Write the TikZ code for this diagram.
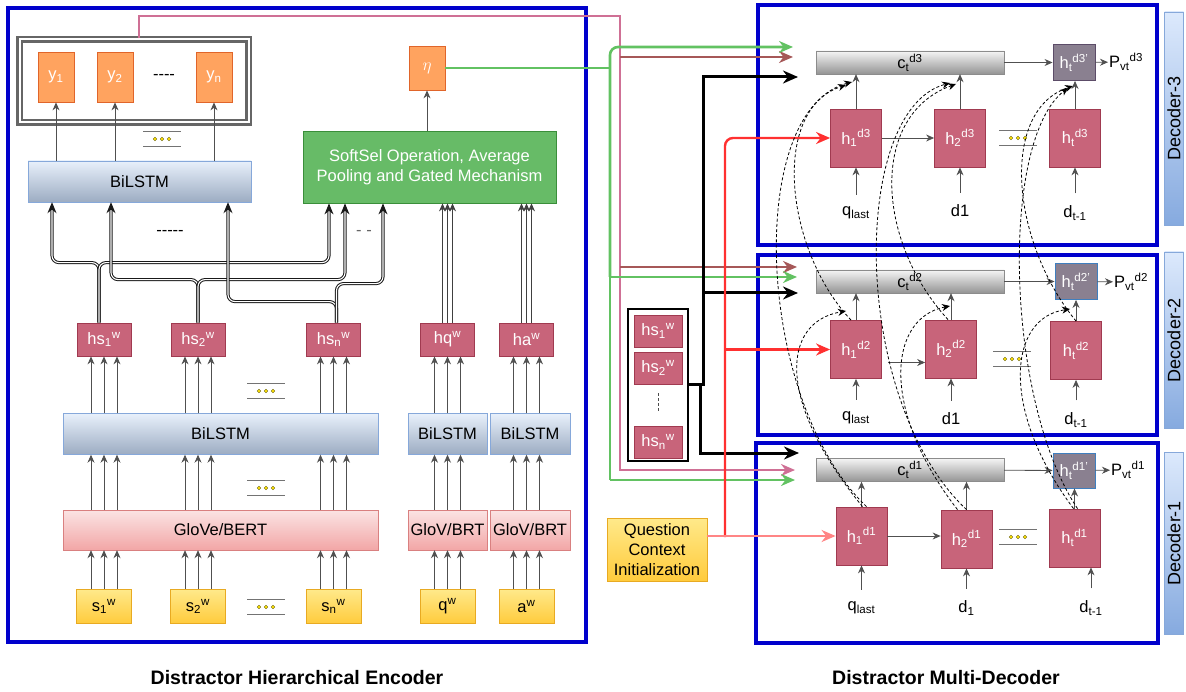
\documentclass[tikz,border=0pt]{standalone}
\usepackage{fontspec}
\setmainfont{Liberation Sans}
\usetikzlibrary{arrows.meta}

\definecolor{frameblue}{HTML}{0000CC}
\definecolor{hred}{HTML}{C8647A}
\definecolor{hredline}{HTML}{A03A50}
\definecolor{hgrey}{HTML}{8A8090}
\definecolor{hgreyline}{HTML}{5C4C68}
\definecolor{hblueline}{HTML}{3F7FBF}
\definecolor{horange}{HTML}{FFA35F}
\definecolor{horangeline}{HTML}{E0652A}
\definecolor{selgreen}{HTML}{67BB67}
\definecolor{selgreenline}{HTML}{3A8E3A}
\definecolor{lstmlight}{HTML}{E8F0FB}
\definecolor{lstmdark}{HTML}{9CACC2}
\definecolor{lstmline}{HTML}{86A8DA}
\definecolor{embtop}{HTML}{FBE4E4}
\definecolor{embbot}{HTML}{F2A6A6}
\definecolor{embline}{HTML}{D98080}
\definecolor{wordtop}{HTML}{FFE98A}
\definecolor{wordbot}{HTML}{FFCB3C}
\definecolor{wordline}{HTML}{E8AA22}
\definecolor{pinkline}{HTML}{CF7095}
\definecolor{brownline}{HTML}{A65858}
\definecolor{greenline}{HTML}{62C262}
\definecolor{redline}{HTML}{FF3030}
\definecolor{softred}{HTML}{FF8585}
\definecolor{arrowgrey}{HTML}{505050}
\definecolor{sidelight}{HTML}{DCE9FC}
\definecolor{sidedark}{HTML}{86AADF}

\tikzstyle{txt}=[inner sep=1pt]
\tikzstyle{hcell}=[draw=hredline, fill=hred, text=white, line width=0.8pt, minimum width=51pt, minimum height=58pt, inner sep=0pt]
\tikzstyle{hscell}=[hcell, minimum width=54pt, minimum height=33pt]
\tikzstyle{hpcell}=[draw=hgreyline, fill=hgrey, text=white, line width=0.9pt, minimum width=42pt, minimum height=36pt, inner sep=0pt]
\tikzstyle{cbar}=[draw=black!45, top color=black!4, bottom color=black!42, minimum width=188pt, minimum height=23pt, inner sep=0pt]
\tikzstyle{lstm}=[draw=lstmline, top color=lstmlight, bottom color=lstmdark, minimum height=41pt, inner sep=0pt]
\tikzstyle{emb}=[draw=embline, top color=embtop, bottom color=embbot, minimum height=40pt, inner sep=0pt]
\tikzstyle{word}=[draw=wordline, top color=wordtop, bottom color=wordbot, line width=0.8pt, minimum width=55pt, minimum height=34pt, inner sep=0pt]
\tikzstyle{ycell}=[draw=horangeline, fill=horange, text=white, line width=0.8pt, minimum width=36pt, minimum height=50pt, inner sep=0pt]
\tikzstyle{ybank}=[draw=black!60, double=white, double distance=2pt, line width=2.2pt, minimum width=229pt, minimum height=83pt]
\tikzstyle{softsel}=[draw=selgreenline, fill=selgreen, text=white, line width=0.8pt, align=center, minimum width=253pt, minimum height=72pt]
\tikzstyle{sidebar}=[draw=lstmline, top color=sidelight, bottom color=sidedark, rotate=90, minimum height=19pt, inner sep=0pt, font=\fontsize{18}{20}\selectfont]
\tikzstyle{blueframe}=[draw=frameblue, line width=3.8pt]
\tikzstyle{arrow}=[draw=arrowgrey, line width=0.8pt, -{Stealth[length=8pt, width=7pt]}]
\tikzstyle{inarrow}=[arrow, shorten <=11pt]
\tikzstyle{bundle}=[draw=black!90, double=white, double distance=1.1pt, line width=1pt, rounded corners=7pt, -{Stealth[length=11pt, width=9pt]}]
\tikzstyle{attend}=[black, dash pattern=on 3pt off 2.2pt, line width=0.8pt, -{Stealth[length=8pt, width=7pt]}]
\tikzstyle{feed}=[line width=2.6pt, -{Stealth[length=14pt, width=12pt]}]
\tikzstyle{heavy}=[black, line width=3pt, -{Stealth[length=15pt, width=13pt]}]

\tikzset{
  dotbar/.pic={
    \draw[black!55, line width=1pt] (-19,-7.5) -- (19,-7.5) (-19,7.5) -- (19,7.5);
    \foreach \d in {-7,0,7}
      \draw[olive!70!black, fill=yellow!85!orange, line width=0.4pt] (\d,0) circle (1.8);
  }
}

\begin{document}
\begin{tikzpicture}[x=1pt, y=-1pt, every node/.style={font=\fontsize{16.5}{20}\selectfont}]
\useasboundingbox (0,0) rectangle (1186,692);

% frames
\draw[blueframe] (8,8) rectangle (586,642);
\draw[blueframe] (758,5) rectangle (1157,245);
\draw[blueframe] (758,255) rectangle (1157,435);
\draw[blueframe] (756,443) rectangle (1158,643);

% encoder
\node[ybank] (ybank) at (134,81) {};
\node[ycell] (y1) at (56,77) {y\textsubscript{1}};
\node[ycell] (y2) at (115,77) {y\textsubscript{2}};
\node[ycell] (yn) at (214,77) {y\textsubscript{n}};
\node[txt] (ygap) at (164,77) {-{}-{}-{}-};
\pic at (162,139) {dotbar};

\node[lstm, minimum width=223pt] (toplstm) at (139.5,181.5) {BiLSTM};
\node[softsel] (soft) at (429.5,167) {SoftSel Operation, Average\\Pooling and Gated Mechanism};
\node[ycell, minimum height=44pt, font=\fontsize{19}{20}\selectfont] (eta) at (427,68) {$\eta$};

\node[hscell] (hs1) at (104,339.5) {hs\textsubscript{1}\textsuperscript{w}};
\node[hscell] (hs2) at (198,339.5) {hs\textsubscript{2}\textsuperscript{w}};
\node[hscell] (hsn) at (333.5,339.5) {hs\textsubscript{n}\textsuperscript{w}};
\node[hscell] (hq) at (447.5,339.5) {hq\textsuperscript{w}};
\node[hscell] (ha) at (526.5,339.5) {ha\textsuperscript{w}};
\pic at (266,391) {dotbar};

\node[lstm, minimum width=315pt] (lstm) at (220.5,434) {BiLSTM};
\node[lstm, minimum width=79pt] (lstmq) at (447.5,434) {BiLSTM};
\node[lstm, minimum width=80pt] (lstma) at (530,434) {BiLSTM};
\pic at (266,488) {dotbar};

\node[emb, minimum width=315pt] (glove) at (220.5,530) {GloVe/BERT};
\node[emb, minimum width=79pt] (gloveq) at (447.5,530) {GloV/BRT};
\node[emb, minimum width=80pt] (glovea) at (530,530) {GloV/BRT};

\node[word] (s1) at (104,606.5) {s\textsubscript{1}\textsuperscript{w}};
\node[word] (s2) at (198,606.5) {s\textsubscript{2}\textsuperscript{w}};
\node[word] (sn) at (333.5,606.5) {s\textsubscript{n}\textsuperscript{w}};
\node[word] (qw) at (447.5,606.5) {q\textsuperscript{w}};
\node[word] (aw) at (526.5,606.5) {a\textsuperscript{w}};
\pic at (266,607) {dotbar};

\foreach \w/\e/\l/\h in {s1/glove/lstm/hs1, s2/glove/lstm/hs2, sn/glove/lstm/hsn, qw/gloveq/lstmq/hq, aw/glovea/lstma/ha}
  \foreach \o in {-13,0,13} {
    \draw[arrow] ([xshift=\o]\w.north) -- ([xshift=\o]\w.north |- \e.south);
    \draw[arrow] ([xshift=\o]\w.north |- \e.north) -- ([xshift=\o]\w.north |- \l.south);
    \draw[arrow] ([xshift=\o]\w.north |- \l.north) -- ([xshift=\o]\h.south);
  }

\foreach \t in {y1,y2,yn}
  \draw[arrow] (\t |- toplstm.north) -- (\t.south);
\draw[arrow] (soft.north -| eta) -- (eta.south);

% hs to BiLSTM and SoftSel
\draw[bundle] ([xshift=-5]hs1.north) -- ++(0,-60) -| ([xshift=-87.5]toplstm.south);
\draw[bundle] ([xshift=-5]hs1.north) -- ++(0,-60) -| ([xshift=-100.5]soft.south);
\draw[bundle] (hs2.north) -- ++(0,-43) -| ([xshift=-28.5]toplstm.south);
\draw[bundle] (hs2.north) -- ++(0,-43) -| ([xshift=-84.5]soft.south);
\draw[bundle] ([xshift=3]hsn.north) -- ++(0,-21) -| ([xshift=88.5]toplstm.south);
\draw[bundle] ([xshift=3]hsn.north) -- ++(0,-39) -| ([xshift=-46.5]soft.south);
\foreach \c in {hq,ha}
  \foreach \o in {-5,0,5}
    \draw[arrow, draw=black!75] ([xshift=\o]\c.north) -- ([xshift=\o]\c.north |- soft.south);
\node[txt] (sdash) at (170,233) {-{}-{}-{}-{}-};
\node[txt, text=black!60] (fdash) at (364,233) {-{} -};

% hs stack
\node[draw=black, line width=2.4pt, minimum width=60pt, minimum height=152pt] (hsstk) at (658,385) {};
\node[hscell, minimum width=48pt, minimum height=32pt] (shs1) at (658,331) {hs\textsubscript{1}\textsuperscript{w}};
\node[hscell, minimum width=48pt, minimum height=32pt] (shs2) at (658,368) {hs\textsubscript{2}\textsuperscript{w}};
\node[hscell, minimum width=48pt, minimum height=32pt] (shsn) at (658,442) {hs\textsubscript{n}\textsuperscript{w}};
\draw[black!70, dash pattern=on 3pt off 2pt] ([yshift=-9]shs2.south) -- ([yshift=13]shsn.north);

\node[word, minimum width=100pt, minimum height=63pt, align=center, font=\fontsize{16.5}{20}\selectfont] (qci) at (657,549.5) {Question\\Context\\Initialization};

% decoder-3
\node[cbar] (cd3) at (910,62.5) {c\textsubscript{t}\textsuperscript{d3}};
\node[hpcell] (hpd3) at (1074,62.5) {h\textsubscript{t}\textsuperscript{d3'}};
\node[txt, anchor=west] (pd3) at (1108,62) {P\textsubscript{vt}\textsuperscript{d3}};
\node[hcell] (h1d3) at (856,138) {h\textsubscript{1}\textsuperscript{d3}};
\node[hcell] (h2d3) at (960,138) {h\textsubscript{2}\textsuperscript{d3}};
\node[hcell] (htd3) at (1075,138) {h\textsubscript{t}\textsuperscript{d3}};
\pic at (1018,138) {dotbar};
\node[txt] (ql3) at (856,213) {q\textsubscript{last}};
\node[txt] (dd3) at (960,211) {d1};
\node[txt] (dt3) at (1075,213) {d\textsubscript{t-1}};
\draw[inarrow] (ql3) -- (h1d3);
\draw[inarrow] (dd3) -- (h2d3);
\draw[inarrow] (dt3) -- (htd3);
\draw[arrow] (h1d3) -- (h1d3 |- cd3.south);
\draw[arrow] (h2d3) -- (h2d3 |- cd3.south);
\draw[arrow] (htd3) -- (htd3 |- hpd3.south);
\draw[arrow] (h1d3) -- (h2d3);
\draw[arrow] (cd3) -- (hpd3);
\draw[arrow] (hpd3) -- (pd3);
\node[sidebar, minimum width=213pt] (side3) at (1174,118.5) {Decoder-3};

% decoder-2
\node[cbar] (cd2) at (910,281.5) {c\textsubscript{t}\textsuperscript{d2}};
\node[hpcell, draw=hblueline] (hpd2) at (1076,281.5) {h\textsubscript{t}\textsuperscript{d2'}};
\node[txt, anchor=west] (pd2) at (1113,282) {P\textsubscript{vt}\textsuperscript{d2}};
\node[hcell] (h1d2) at (856,349.5) {h\textsubscript{1}\textsuperscript{d2}};
\node[hcell] (h2d2) at (951,349) {h\textsubscript{2}\textsuperscript{d2}};
\node[hcell] (htd2) at (1076,350.5) {h\textsubscript{t}\textsuperscript{d2}};
\pic at (1012,359) {dotbar};
\node[txt] (ql2) at (856,418) {q\textsubscript{last}};
\node[txt] (dd2) at (951,419) {d1};
\node[txt] (dt2) at (1076,420) {d\textsubscript{t-1}};
\draw[inarrow] (ql2) -- (h1d2);
\draw[inarrow] (dd2) -- (h2d2);
\draw[inarrow] (dt2) -- (htd2);
\draw[arrow] (h1d2) -- (h1d2 |- cd2.south);
\draw[arrow] (h2d2) -- (h2d2 |- cd2.south);
\draw[arrow] (htd2) -- (htd2 |- hpd2.south);
\draw[arrow, shorten <=6pt] ([yshift=-13]h1d2.east) -- ([yshift=-13]h1d2.east -| h2d2.west);
\draw[arrow] (cd2) -- (hpd2);
\draw[arrow] (hpd2) -- (pd2);
\node[sidebar, minimum width=176pt] (side2) at (1174,340) {Decoder-2};

% decoder-1
\node[cbar] (cd1) at (910,470) {c\textsubscript{t}\textsuperscript{d1}};
\node[hpcell, draw=hblueline, minimum height=35pt] (hpd1) at (1074,470.5) {h\textsubscript{t}\textsuperscript{d1'}};
\node[txt, anchor=west] (pd1) at (1110,470) {P\textsubscript{vt}\textsuperscript{d1}};
\node[hcell] (h1d1) at (861.5,536) {h\textsubscript{1}\textsuperscript{d1}};
\node[hcell] (h2d1) at (966.5,539) {h\textsubscript{2}\textsuperscript{d1}};
\node[hcell] (htd1) at (1074.5,538) {h\textsubscript{t}\textsuperscript{d1}};
\pic at (1018,537) {dotbar};
\node[txt] (ql1) at (861.5,608) {q\textsubscript{last}};
\node[txt] (dd1) at (966.5,608) {d\textsubscript{1}};
\node[txt] (dt1) at (1091,608) {d\textsubscript{t-1}};
\draw[inarrow] (ql1) -- (h1d1);
\draw[inarrow] (dd1) -- (h2d1);
\draw[inarrow] (dt1) -- (dt1 |- htd1.south);
\draw[arrow] (h1d1) -- (h1d1 |- cd1.south);
\draw[arrow] (h2d1) -- (h2d1 |- cd1.south);
\draw[arrow] (htd1) -- (htd1 |- hpd1.south);
\draw[arrow] (h1d1.east) -- (h1d1.east -| h2d1.west);
\draw[arrow] (cd1) -- (hpd1);
\draw[arrow] (hpd1) -- (pd1);
\node[sidebar, minimum width=182pt] (side1) at (1174,543) {Decoder-1};

% feeds from the encoder
\coordinate (ptop) at (620,16);
\coordinate (gtop) at (610,47);
\coordinate (kv) at (703,385);
\coordinate (kd) at (700,453);
\coordinate (rv) at (725,537);
\coordinate (g3) at (793,47);
\coordinate (b3) at (793,57);
\coordinate (k3) at (798,77);
\coordinate (b2) at (797,267);
\coordinate (g2) at (797,277);
\coordinate (k2) at (798,293);
\coordinate (k1) at (799,453);
\coordinate (p1) at (795,470);
\coordinate (g1) at (795,480);

\draw[feed, pinkline] ([xshift=5]ybank.north) |- (ptop) |- (p1);
\draw[feed, brownline] (ptop |- b3) -- (b3);
\draw[feed, brownline] (ptop |- b2) -- (b2);
\draw[greenline, line width=2.6pt] (eta.east) -- (eta.east -| gtop);
\draw[feed, greenline, rounded corners=8pt] (gtop |- g2) -- (gtop) -- (g3);
\draw[feed, greenline] (gtop |- g1) -- (g1);
\draw[feed, greenline] (gtop |- g2) -- (g2);
\draw[greenline, line width=2.6pt] (gtop |- g2) -- (gtop |- g1);

\draw[heavy] (hsstk.east) -- (kv) |- (k3);
\draw[heavy] (kv |- k2) -- (k2);
\draw[heavy] (hsstk.east) -| (kd) -- (k1);

\draw[feed, redline, line width=2.4pt, rounded corners=8pt] (rv) |- (h1d3.west);
\draw[feed, redline, line width=2.4pt] (rv |- h1d2.west) -- (h1d2.west);
\draw[feed, softred, line width=2.4pt] (qci.east |- h1d1.west) -- (h1d1.west);

% attention links between decoders
\coordinate (a21) at (846,311);
\coordinate (a22) at (950,306);
\coordinate (a2t) at (1070,309);
\coordinate (a31) at (852,82);
\coordinate (a31b) at (846,85);
\coordinate (a32) at (950,83);
\coordinate (a32b) at (956,84);
\coordinate (a3t) at (1068,88);
\coordinate (a3tb) at (1073,86);

\draw[attend] ([xshift=1]h1d1.north) .. controls (775,400) and (782,322) .. (a21);
\draw[attend] ([xshift=5]h1d1.north) .. controls (755,400) and (745,110) .. (a31);
\draw[attend] ([xshift=-5]h1d2.north) .. controls (785,250) and (770,110) .. (a31b);
\draw[attend] ([xshift=-9]h2d1.north) .. controls (880,410) and (888,318) .. (a22);
\draw[attend] (h2d1.north) .. controls (850,400) and (850,110) .. (a32);
\draw[attend] ([xshift=-3]h2d2.north) .. controls (875,240) and (870,115) .. (a32b);
\draw[attend] ([xshift=-1]htd1.north) .. controls (1000,410) and (1008,318) .. (a2t);
\draw[attend] ([xshift=3]htd1.north) .. controls (1005,400) and (1000,140) .. (a3t);
\draw[attend] (htd2.north) .. controls (1010,240) and (1000,110) .. (a3tb);

% captions
\node[txt, font=\bfseries\fontsize{19.5}{23}\selectfont] (enccap) at (297,678) {Distractor Hierarchical Encoder};
\node[txt, font=\bfseries\fontsize{19.5}{23}\selectfont] (deccap) at (946,678) {Distractor Multi-Decoder};
\end{tikzpicture}
\end{document}
